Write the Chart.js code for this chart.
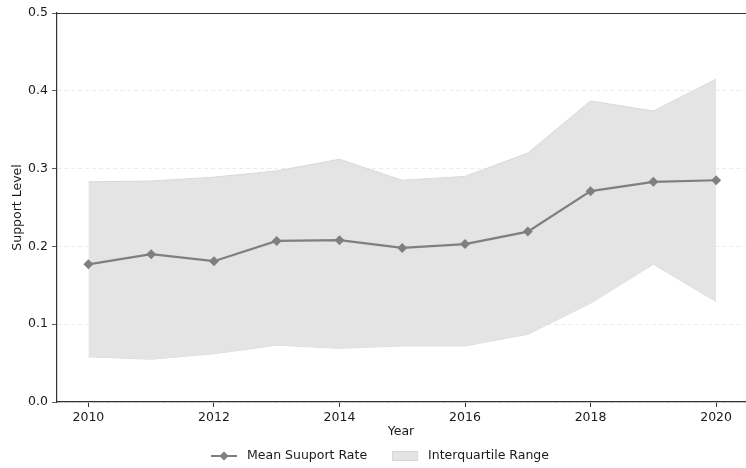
<!DOCTYPE html>
<html>
<head>
<meta charset="utf-8">
<script src="https://cdn.jsdelivr.net/npm/chart.js@4"></script>
<style>
  html, body { margin: 0; padding: 0; background: #ffffff; }
  #wrap { width: 746px; height: 468px; position: relative; }
</style>
</head>
<body>
<div id="wrap"><canvas id="c" width="746" height="468"></canvas></div>
<script>
const years = [2010, 2011, 2012, 2013, 2014, 2015, 2016, 2017, 2018, 2019, 2020];
const meanSupport = [0.177, 0.190, 0.181, 0.207, 0.208, 0.198, 0.203, 0.219, 0.271, 0.283, 0.285];
const upperQuartile = [0.283, 0.284, 0.289, 0.297, 0.312, 0.285, 0.290, 0.320, 0.387, 0.374, 0.415];
const lowerQuartile = [0.058, 0.055, 0.062, 0.073, 0.069, 0.072, 0.072, 0.087, 0.127, 0.177, 0.129];
const xTicks = [2010, 2012, 2014, 2016, 2018, 2020];
const yTicks = [0.0, 0.1, 0.2, 0.3, 0.4, 0.5];
const meanLabel = 'Mean Suuport Rate';
const iqrLabel = 'Interquartile Range';
const xTitle = 'Year';
const yTitle = 'Support Level';

const FONT = 'DejaVu Sans';
const FS = 12.5;
const LINE = '#7f7f7f';
const FILL = '#e4e4e4';
const FILL_EDGE = '#d9d9d9';
const AXIS = '#333333';

const toPts = arr => years.map((y, i) => ({x: y, y: arr[i]}));

const extras = {
  id: 'extras',
  afterDraw(chart) {
    const ctx = chart.ctx;
    const a = chart.chartArea;
    ctx.save();
    // top spine
    ctx.strokeStyle = AXIS;
    ctx.lineWidth = 1.1;
    ctx.beginPath();
    ctx.moveTo(a.left, a.top + 0.5);
    ctx.lineTo(a.right + 2, a.top + 0.5);
    ctx.stroke();

    // legend
    const cy = 456;
    const cx = 380;
    ctx.font = FS + 'px "' + FONT + '"';
    ctx.textBaseline = 'middle';
    ctx.textAlign = 'left';
    const w1 = ctx.measureText(meanLabel).width;
    const w2 = ctx.measureText(iqrLabel).width;
    const handle = 26, gap = 10, between = 25;
    const total = handle + gap + w1 + between + handle + gap + w2;
    let x = cx - total / 2;
    // line + diamond handle
    ctx.strokeStyle = LINE;
    ctx.lineWidth = 2;
    ctx.beginPath();
    ctx.moveTo(x, cy);
    ctx.lineTo(x + handle, cy);
    ctx.stroke();
    ctx.fillStyle = LINE;
    ctx.beginPath();
    const mx = x + handle / 2, r = 4.5;
    ctx.moveTo(mx, cy - r);
    ctx.lineTo(mx + r, cy);
    ctx.lineTo(mx, cy + r);
    ctx.lineTo(mx - r, cy);
    ctx.closePath();
    ctx.fill();
    x += handle + gap;
    ctx.fillStyle = '#1a1a1a';
    ctx.fillText(meanLabel, x, cy);
    x += w1 + between;
    // patch handle
    ctx.fillStyle = FILL;
    ctx.fillRect(x, cy - 5, handle, 10);
    ctx.strokeStyle = FILL_EDGE;
    ctx.lineWidth = 1;
    ctx.strokeRect(x + 0.5, cy - 4.5, handle - 1, 9);
    x += handle + gap;
    ctx.fillStyle = '#1a1a1a';
    ctx.fillText(iqrLabel, x, cy);
    ctx.restore();
  }
};

new Chart(document.getElementById('c'), {
  type: 'line',
  data: {
    datasets: [
      {
        label: 'lower',
        data: toPts(lowerQuartile),
        borderColor: FILL_EDGE,
        borderWidth: 1,
        pointRadius: 0,
        fill: false,
        tension: 0,
        order: 3
      },
      {
        label: iqrLabel,
        data: toPts(upperQuartile),
        borderColor: FILL_EDGE,
        borderWidth: 1,
        backgroundColor: FILL,
        pointRadius: 0,
        fill: '-1',
        tension: 0,
        order: 2
      },
      {
        label: meanLabel,
        data: toPts(meanSupport),
        borderColor: LINE,
        backgroundColor: LINE,
        borderWidth: 2.2,
        pointStyle: 'rectRot',
        pointRadius: 5,
        pointBorderWidth: 0,
        pointBackgroundColor: LINE,
        fill: false,
        tension: 0,
        order: 1
      }
    ]
  },
  options: {
    responsive: false,
    animation: false,
    devicePixelRatio: 1,
    layout: { autoPadding: false, padding: { left: 0, right: 1, top: 13, bottom: 0 } },
    plugins: {
      legend: { display: false },
      tooltip: { enabled: false }
    },
    scales: {
      x: {
        type: 'linear',
        min: 2009.5,
        max: 2020.46,
        afterBuildTicks: s => { s.ticks = xTicks.map(v => ({value: v})); },
        afterFit: s => { s.height = 66; s.paddingLeft = 0; s.paddingRight = 0; },
        grid: { display: true, drawOnChartArea: false, drawTicks: true, tickLength: 5, tickColor: AXIS, color: AXIS },
        border: { display: true, color: AXIS, width: 1.2 },
        ticks: {
          color: '#1a1a1a',
          font: { family: FONT, size: FS },
          padding: 3,
          maxRotation: 0,
          callback: v => String(v)
        },
        title: {
          display: true,
          text: xTitle,
          color: '#1a1a1a',
          font: { family: FONT, size: FS },
          padding: { top: 0, bottom: 29 }
        }
      },
      y: {
        type: 'linear',
        min: 0,
        max: 0.5,
        afterBuildTicks: s => { s.ticks = yTicks.map(v => ({value: v})); },
        afterFit: s => { s.width = 57; s.paddingTop = 0; s.paddingBottom = 0; },
        grid: { display: true, drawOnChartArea: true, drawTicks: true, tickLength: 5, tickColor: AXIS, color: '#e6e6e6', lineWidth: 0.8 },
        border: { display: true, color: AXIS, width: 1.2, dash: [4, 3] },
        ticks: {
          color: '#1a1a1a',
          font: { family: FONT, size: FS },
          padding: 4,
          callback: v => Number(v).toFixed(1)
        },
        title: {
          display: true,
          text: yTitle,
          color: '#1a1a1a',
          font: { family: FONT, size: FS },
          padding: { top: 10, bottom: 0 }
        }
      }
    }
  },
  plugins: [extras]
});
</script>
</body>
</html>
